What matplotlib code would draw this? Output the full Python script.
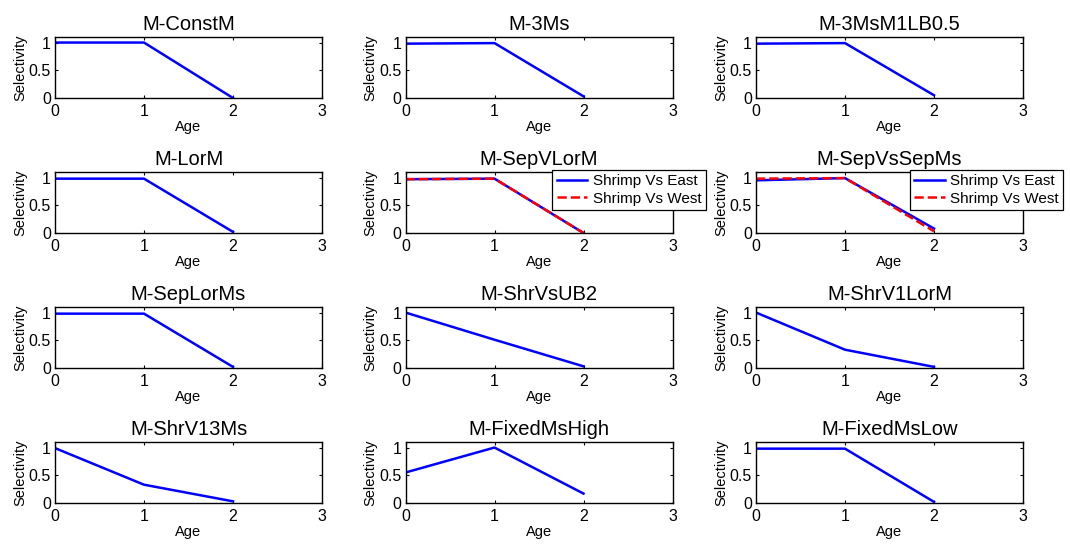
import matplotlib.pyplot as plt

# ── Data ────────────────────────────────────────────────────────────────
ages = [0, 1, 2]

titles = ['M-ConstM', 'M-3Ms', 'M-3MsM1LB0.5',
          'M-LorM', 'M-SepVLorM', 'M-SepVsSepMs',
          'M-SepLorMs', 'M-ShrVsUB2', 'M-ShrV1LorM',
          'M-ShrV13Ms', 'M-FixedMsHigh', 'M-FixedMsLow']

# "Shrimp Vs East" (or the single series when there is no legend)
sel_east = [
    [1.00, 1.00, 0.00],
    [0.98, 0.99, 0.03],
    [0.98, 0.99, 0.05],
    [0.98, 0.98, 0.02],
    [0.97, 0.98, 0.00],
    [0.95, 0.99, 0.08],
    [0.98, 0.98, 0.02],
    [1.00, 0.51, 0.03],
    [1.00, 0.33, 0.02],
    [0.99, 0.33, 0.03],
    [0.55, 1.00, 0.17],
    [0.98, 0.98, 0.02],
]

# "Shrimp Vs West" only for the two separated models
sel_west = {
    'M-SepVLorM': [0.97, 0.98, 0.00],
    'M-SepVsSepMs': [0.98, 0.99, 0.03],
}

# ── Plot ────────────────────────────────────────────────────────────────
plt.rcParams.update({
    'font.family': ['Liberation Sans', 'DejaVu Sans'],
    'axes.linewidth': 1.0,
    'xtick.direction': 'in',
    'ytick.direction': 'in',
    'xtick.top': True,
    'ytick.right': True,
    'xtick.major.size': 2.5,
    'ytick.major.size': 2.5,
    'xtick.major.pad': 4,
    'ytick.major.pad': 3,
})

W, H = 1070, 545
fig = plt.figure(figsize=(W / 100, H / 100), dpi=100)

col_left = [55, 405.5, 756]
col_w = 267
row_top = [37, 172, 307, 442]
row_h = 61

for i, name in enumerate(titles):
    r, c = divmod(i, 3)
    ax = fig.add_axes([col_left[c] / W, 1 - (row_top[r] + row_h) / H,
                       col_w / W, row_h / H])
    ax.plot(ages, sel_east[i], '-', color='#0000ff', linewidth=1.8,
            label='Shrimp Vs East')
    if name in sel_west:
        ax.plot(ages, sel_west[name], '--', color='#ff0000', linewidth=1.8,
                label='Shrimp Vs West')
        lx = 0.55 if c == 1 else 0.575
        leg = ax.legend(loc='upper left', bbox_to_anchor=(lx, 1.035),
                        fontsize=11, fancybox=False, framealpha=1,
                        edgecolor='black', borderpad=0.3, labelspacing=0.2,
                        handlelength=2.0, handletextpad=0.35, borderaxespad=0)
        leg.get_frame().set_linewidth(0.9)
    ax.set_xlim(0, 3)
    ax.set_ylim(0, 1.1)
    ax.set_xticks([0, 1, 2, 3])
    ax.set_yticks([0, 0.5, 1])
    ax.set_yticklabels(['0', '0.5', '1'])
    ax.tick_params(labelsize=11.5)
    ax.set_title(name, fontsize=14.5, pad=5)
    ax.set_xlabel('Age', fontsize=10.5, labelpad=1)
    ax.set_ylabel('Selectivity', fontsize=10.5, labelpad=1)

plt.savefig('out.png', dpi=100, facecolor='white')
